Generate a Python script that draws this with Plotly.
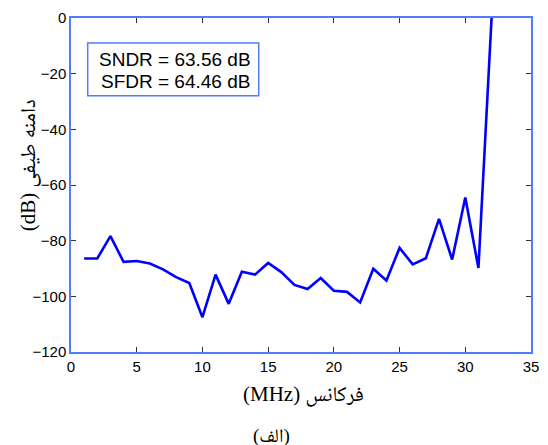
import plotly.graph_objects as go

freq_mhz = list(range(1, 33))
amplitude_db = [-86.4, -86.4, -78.4, -87.6, -87.3, -88.2, -90.3, -93.1, -95.2, -107.5,
                -92.2, -102.7, -91.2, -92.2, -88.0, -91.3, -95.9, -97.4, -93.4, -98.0,
                -98.4, -102.2, -90.1, -94.3, -82.6, -88.5, -86.3, -72.2, -86.8, -64.5,
                -89.8, 0.0]
metrics_lines = ["SNDR = 63.56 dB", "SFDR = 64.46 dB"]
x_title = "فرکانس (MHz)"
y_title = "دامنه طیفی (dB)"
caption = "(الف)"

RLE, PDF = "\u202B", "\u202C"

BORDER = "rgb(80,124,255)"
SANS = "Arial, Liberation Sans, sans-serif"
SERIF = ("Times New Roman, Liberation Serif, Noto Naskh Arabic, Noto Serif Arabic, "
         "Noto Sans Arabic, DejaVu Sans, serif")

fig = go.Figure()
fig.add_trace(go.Scatter(x=freq_mhz, y=amplitude_db, mode="lines",
                         line=dict(color="#0000ff", width=2.6), showlegend=False))

W, H = 548, 445
L, R, T, B = 71, 9, 17, 93
pw, ph = W - L - R, H - T - B

def px(xp):
    return (xp - L) / pw

def py(yp):
    return (H - B - yp) / ph

axis_common = dict(showgrid=False, zeroline=False, showline=True, linecolor=BORDER,
                   linewidth=1.5, mirror="ticks", ticks="inside", ticklen=5,
                   tickcolor="#333333", tickwidth=1,
                   tickfont=dict(family=SANS, size=15, color="black"))

fig.update_layout(
    width=W, height=H, margin=dict(l=L, r=R, t=T, b=B),
    paper_bgcolor="white", plot_bgcolor="white",
    xaxis=dict(range=[0, 35], dtick=5, tick0=0, **axis_common),
    yaxis=dict(range=[-120, 0], dtick=20, tick0=0, **axis_common),
)

# metrics box
fig.add_shape(type="rect", xref="paper", yref="paper",
              x0=px(88), x1=px(262), y0=py(95), y1=py(42),
              line=dict(color=BORDER, width=1.5), fillcolor="white")
for txt, yc in zip(metrics_lines, [58.5, 80.5]):
    fig.add_annotation(text=txt, xref="paper", yref="paper", x=px(177), y=py(yc),
                       xanchor="center", yanchor="middle", showarrow=False,
                       font=dict(family=SANS, size=19, color="black"))

fig.add_annotation(text=RLE + x_title + PDF, xref="paper", yref="paper", x=px(308), y=py(395),
                   xanchor="center", yanchor="middle", showarrow=False,
                   font=dict(family=SERIF, size=21, color="black"))
fig.add_annotation(text=RLE + caption + PDF, xref="paper", yref="paper", x=px(275), y=py(436),
                   xanchor="center", yanchor="middle", showarrow=False,
                   font=dict(family=SERIF, size=19, color="black"))
fig.add_annotation(text=RLE + y_title + PDF, xref="paper", yref="paper", x=px(28), y=py(165),
                   xanchor="center", yanchor="middle", showarrow=False, textangle=-90,
                   font=dict(family=SERIF, size=21, color="black"))

fig.write_html("out.html")
